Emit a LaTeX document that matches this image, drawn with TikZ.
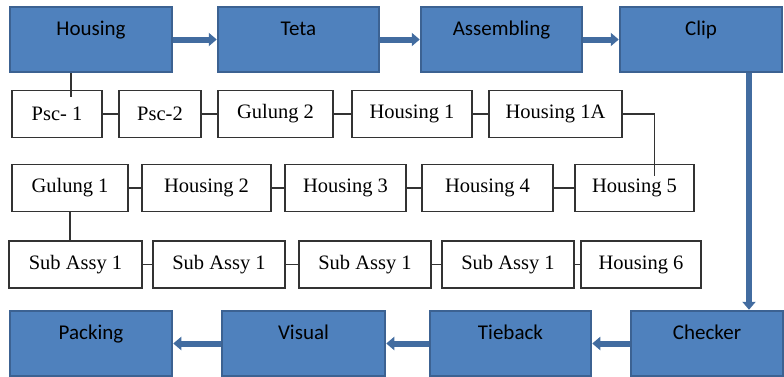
\documentclass[tikz,border=0pt]{standalone}
\usepackage{fontspec}
\setmainfont{Liberation Serif}
\newfontfamily\stagefont{Carlito}
\usepackage{tikz}
\usetikzlibrary{arrows.meta, positioning}
\usepackage{xcolor}
\definecolor{stagefill}{RGB}{79,129,189}
\definecolor{stageedge}{RGB}{60,98,146}
\definecolor{flowblue}{RGB}{66,108,160}
\tikzstyle{stage} = [rectangle, draw=stageedge, line width=2.5pt, fill=stagefill, minimum width=162pt, inner sep=0pt, text height=28pt, text depth=37pt, text centered, font=\stagefont\fontsize{21pt}{25pt}\selectfont]
\tikzstyle{part} = [rectangle, draw=black!80, line width=1.4pt, fill=white, minimum height=47pt, inner sep=0pt, text centered, font=\fontsize{20.5pt}{24pt}\selectfont]
\tikzstyle{flow} = [line width=6pt, draw=flowblue, -{Triangle[width=13pt,length=8pt]}]
\tikzstyle{link} = [line width=1.4pt, draw=black!80]

\begin{document}
\begin{tikzpicture}[x=1pt, y=-1pt]
\useasboundingbox (0,0) rectangle (784,376);

% Main process line (top)
\node (housing) [stage] at (91,39.5) {Housing};
\node (teta) [stage, minimum width=161pt, right=43.5pt of housing] {Teta};
\node (assembling) [stage, minimum width=161pt, right=39.5pt of teta] {Assembling};
\node (clip) [stage, minimum width=162pt, right=35.5pt of assembling] {Clip};

% Main process line (bottom)
\node (packing) [stage] at (91,343.5) {Packing};
\node (visual) [stage, minimum width=163pt, right=47.5pt of packing] {Visual};
\node (tieback) [stage, minimum width=161pt, right=42.5pt of visual] {Tieback};
\node (checker) [stage, minimum width=152pt, right=37.5pt of tieback] {Checker};

% Parts, first row
\node (psc1) [part, minimum width=90pt] at (57,114) {Psc- 1};
\node (psc2) [part, minimum width=82pt, right=15.6pt of psc1] {Psc-2};
\node (gulung2) [part, minimum width=115pt, right=15.6pt of psc2] {Gulung 2};
\node (housing1) [part, minimum width=120pt, right=17.6pt of gulung2] {Housing 1};
\node (housing1a) [part, minimum width=133pt, right=15.6pt of housing1] {Housing 1A};

% Parts, second row
\node (gulung1) [part, minimum width=116pt] at (70,188) {Gulung 1};
\node (housing2) [part, minimum width=129pt, right=12.6pt of gulung1] {Housing 2};
\node (housing3) [part, minimum width=121pt, right=12.6pt of housing2] {Housing 3};
\node (housing4) [part, minimum width=131pt, right=14.6pt of housing3] {Housing 4};
\node (housing5) [part, minimum width=119pt, right=20.6pt of housing4] {Housing 5};

% Parts, third row
\node (sub1) [part, minimum width=133pt] at (75.5,264.5) {Sub Assy 1};
\node (sub2) [part, minimum width=132pt, right=9.6pt of sub1] {Sub Assy 1};
\node (sub3) [part, minimum width=132pt, right=12.6pt of sub2] {Sub Assy 1};
\node (sub4) [part, minimum width=132pt, right=9.6pt of sub3] {Sub Assy 1};
\node (housing6) [part, minimum width=120pt, right=5.6pt of sub4] {Housing 6};

% Flow arrows
\draw [flow] (housing) -- (teta);
\draw [flow] (teta) -- (assembling);
\draw [flow] (assembling) -- (clip);
\draw [flow] ([xshift=48pt]clip.south) -- ([xshift=48pt]clip.south |- checker.north);
\draw [flow] (checker) -- (tieback);
\draw [flow] (tieback) -- (visual);
\draw [flow] (visual) -- (packing);

% Part links
\draw [link] ([xshift=-20pt]housing.south) -- ([xshift=-20pt,yshift=-7pt]housing.south |- psc1.north);
\draw [link] (psc1) -- (psc2);
\draw [link] (psc2) -- (gulung2);
\draw [link] (gulung2) -- (housing1);
\draw [link] (housing1) -- (housing1a);
\draw [link] (housing1a.east) -| ([xshift=20pt,yshift=-12pt]housing5.north);
\draw [link] (gulung1) -- (housing2);
\draw [link] (housing2) -- (housing3);
\draw [link] (housing3) -- (housing4);
\draw [link] (housing4) -- (housing5);
\draw [link] (gulung1.south) -- (gulung1.south |- sub1.north);
\draw [link] (sub1) -- (sub2);
\draw [link] (sub2) -- (sub3);
\draw [link] (sub3) -- (sub4);
\draw [link] (sub4) -- (housing6);

\end{tikzpicture}
\end{document}
